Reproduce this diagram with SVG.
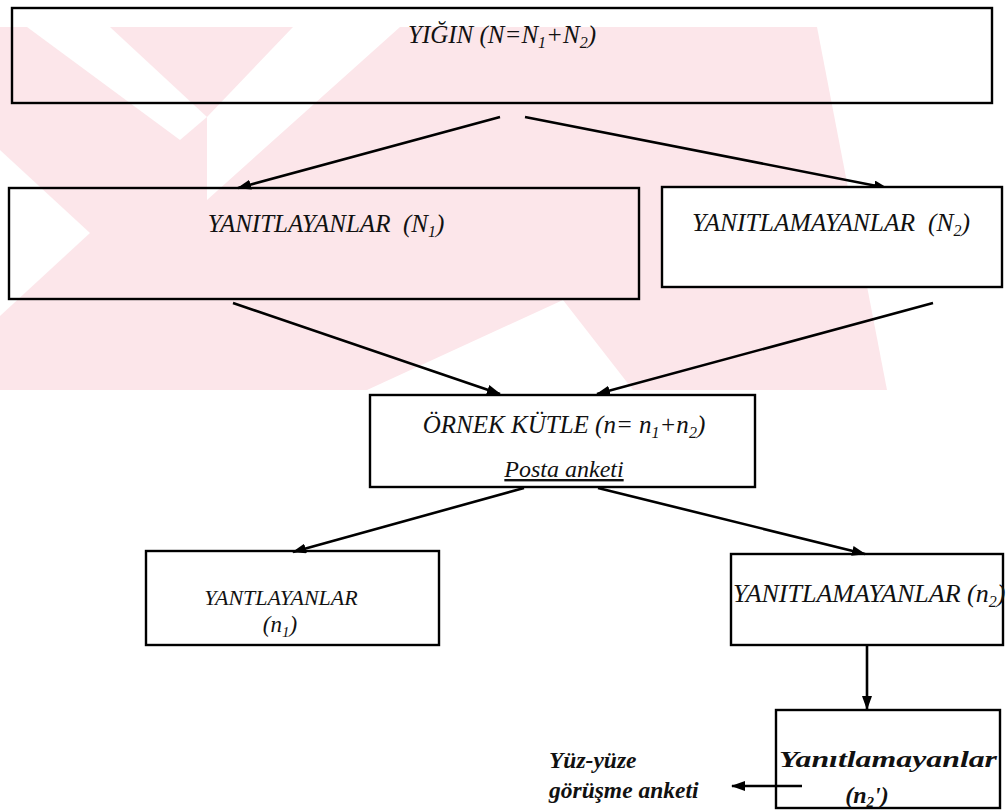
<svg xmlns="http://www.w3.org/2000/svg" width="1007" height="810" viewBox="0 0 1007 810">
<defs>
<style>
.box{fill:none;stroke:#000;stroke-width:2.4}
.boxw{fill:#fff;stroke:#000;stroke-width:2.4}
.t{font-family:"Liberation Serif","Times New Roman",serif;font-style:italic;fill:#111}
.tb{font-family:"Liberation Serif","Times New Roman",serif;font-style:italic;font-weight:bold;fill:#111}
.ln{fill:none;stroke:#000;stroke-width:2.6}
.wm{fill:#fce6ea}
</style>
<marker id="ah" viewBox="0 0 14 10" refX="13" refY="5" markerWidth="14" markerHeight="10" markerUnits="userSpaceOnUse" orient="auto">
<path d="M0,0 L14,5 L0,10 Z" fill="#000"/>
</marker>
</defs>
<rect width="1007" height="810" fill="#fff"/>
<g id="watermark">
<polygon class="wm" points="0,27 817,27 887,390 0,390"/>
<polygon fill="#fff" points="27,27 110,27 207,117 180,140"/>
<polygon fill="#fff" points="293,27 400,27 207,200 207,117"/>
<polygon fill="#fff" points="0,150 90,233 0,316"/>
<polygon fill="#fff" points="367,390 563,300 633,390"/>
</g>
<g id="connectors">
<line class="ln" x1="500" y1="117" x2="238" y2="188" marker-end="url(#ah)"/>
<line class="ln" x1="525" y1="117" x2="887" y2="188" marker-end="url(#ah)"/>
<line class="ln" x1="233" y1="303" x2="500" y2="394" marker-end="url(#ah)"/>
<line class="ln" x1="933" y1="303" x2="597" y2="394" marker-end="url(#ah)"/>
<line class="ln" x1="524" y1="488" x2="293" y2="552" marker-end="url(#ah)"/>
<line class="ln" x1="598" y1="488" x2="865" y2="554" marker-end="url(#ah)"/>
<line class="ln" x1="867" y1="645" x2="867" y2="709" marker-end="url(#ah)"/>
<line class="ln" x1="802" y1="786" x2="732" y2="786" marker-end="url(#ah)"/>
</g>
<g id="node-yigin">
<rect class="box" x="12" y="8" width="980" height="95"/>
<text class="t" x="502" y="43" font-size="25" text-anchor="middle">YIĞIN (N=N<tspan dy="5" font-size="16">1</tspan><tspan dy="-5">+N</tspan><tspan dy="5" font-size="16">2</tspan><tspan dy="-5">)</tspan></text>
</g>
<g id="node-yanitlayanlar">
<rect class="box" x="9" y="188" width="630" height="111"/>
<text class="t" x="326" y="232" font-size="25" text-anchor="middle">YANITLAYANLAR&#160; (N<tspan dy="5" font-size="16">1</tspan><tspan dy="-5">)</tspan></text>
</g>
<g id="node-yanitlamayanlar">
<rect class="boxw" x="662" y="187" width="340" height="100"/>
<text class="t" x="831" y="231" font-size="25.5" text-anchor="middle">YANITLAMAYANLAR&#160; (N<tspan dy="5" font-size="16">2</tspan><tspan dy="-5">)</tspan></text>
</g>
<g id="node-ornek">
<rect class="box" x="370" y="395" width="385" height="92"/>
<text class="t" x="564" y="433" font-size="25" text-anchor="middle">ÖRNEK KÜTLE (n= n<tspan dy="5" font-size="16">1</tspan><tspan dy="-5">+n</tspan><tspan dy="5" font-size="16">2</tspan><tspan dy="-5">)</tspan></text>
<text class="t" x="564" y="477" font-size="24" text-anchor="middle" text-decoration="underline">Posta anketi</text>
</g>
<g id="node-yantlayanlar">
<rect class="box" x="146" y="551" width="293" height="94"/>
<text class="t" x="281" y="605" font-size="22" text-anchor="middle">YANTLAYANLAR</text>
<text class="t" x="280" y="632" font-size="23" text-anchor="middle">(n<tspan dy="5" font-size="15">1</tspan><tspan dy="-5">)</tspan></text>
</g>
<g id="node-yanitlamayanlar2">
<rect class="box" x="731" y="554" width="272" height="91"/>
<text class="t" x="733" y="602" font-size="26">YANITLAMAYANLAR (n<tspan dy="5" font-size="16">2</tspan><tspan dy="-5">)</tspan></text>
</g>
<g id="node-yanitlamayanlar3">
<rect class="box" x="776" y="710" width="224" height="98"/>
<text class="tb" x="779" y="767" font-size="24" textLength="218" lengthAdjust="spacingAndGlyphs">Yanıtlamayanlar</text>
<text class="tb" x="867" y="803" font-size="24" text-anchor="middle">(n<tspan dy="4" font-size="15">2</tspan><tspan dy="-4">')</tspan></text>
</g>
<g id="label-yuzyuze">
<text class="tb" x="549" y="768" font-size="23.5">Yüz-yüze</text>
<text class="tb" x="549" y="798" font-size="23.5">görüşme anketi</text>
</g>
</svg>
